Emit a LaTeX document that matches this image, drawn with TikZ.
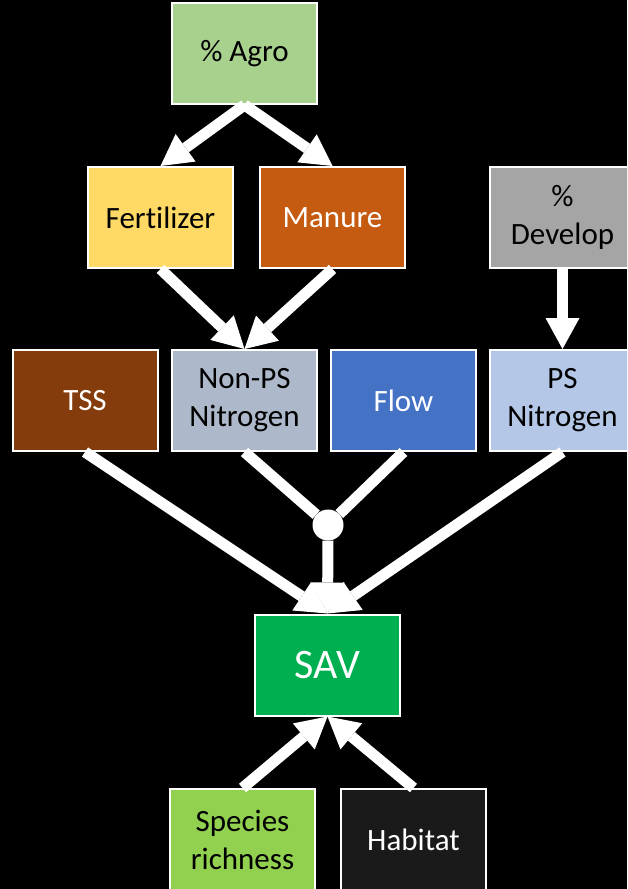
\documentclass[tikz,border=0pt]{standalone}
\usepackage{fontspec}
\setmainfont[Ligatures=NoCommon]{Carlito}
\usetikzlibrary{arrows.meta}

\definecolor{agrogreen}{HTML}{A9D18E}
\definecolor{fertyellow}{HTML}{FFD966}
\definecolor{manureorange}{HTML}{C55A11}
\definecolor{developgrey}{HTML}{A5A5A5}
\definecolor{tssbrown}{HTML}{843C0C}
\definecolor{nonpsgrey}{HTML}{ADB9CA}
\definecolor{flowblue}{HTML}{4472C4}
\definecolor{psblue}{HTML}{B4C7E7}
\definecolor{savgreen}{HTML}{00B050}
\definecolor{speciesgreen}{HTML}{92D050}
\definecolor{habitatgrey}{HTML}{1A1A1A}

\tikzset{%
  every box/.style={
    rectangle,
    draw=white,
    line width=2pt,
    minimum width=145pt,
    minimum height=101pt,
    align=center,
    font=\fontsize{31}{38}\selectfont
  },
  big arrow/.style={
    draw=white,
    line width=11pt,
    -{Triangle[length=31pt,width=34pt,line width=0pt]}
  },
  plain link/.style={
    draw=white,
    line width=11pt
  },
}

\begin{document}
\begin{tikzpicture}[x=1pt, y=-1pt]

\clip (0,0) rectangle (627,889);
\fill [black] (0,0) rectangle (627,889);


% Boxes
\node [every box, fill=agrogreen] (agro) at (244.5,53.5) {\% Agro};

\node [every box, fill=fertyellow] (fert) at (160.5,217.5) {Fertilizer};
\node [every box, fill=manureorange, text=white] (manure) at (332.5,217.5) {Manure};
\node [every box, fill=developgrey] (develop) at (562.5,217.5) {\%\\Develop};

\node [every box, fill=tssbrown, text=white] (tss) at (85,400.5) {TSS};
\node [every box, fill=nonpsgrey] (nonps) at (244.5,400.5) {Non-PS\\Nitrogen};
\node [every box, fill=flowblue, text=white] (flow) at (403.5,400.5) {Flow};
\node [every box, fill=psblue] (ps) at (562.5,400.5) {PS\\Nitrogen};

\node [every box, fill=savgreen, text=white, font=\fontsize{42}{50}\selectfont] (sav) at (327.5,665) {SAV};

\node [every box, fill=speciesgreen] (species) at (242.5,839.5) {Species\\richness};
\node [every box, fill=habitatgrey, text=white] (habitat) at (413.5,839.5) {Habitat};

\node [circle, fill=white, minimum size=31pt, inner sep=0pt] (junction) at (328,525) {};


% Arrows
\foreach \k in {fert,manure}
  \draw [big arrow] (agro.south) -- (\k.north);

\foreach \k in {fert,manure}
  \draw [big arrow] (\k.south) -- (nonps.north);

\draw [big arrow] (develop.south) -- (ps.north);

\foreach \k in {nonps,flow}
  \draw [plain link] (\k.south) -- (junction);

\foreach \k in {tss,junction,ps}
  \draw [big arrow] (\k.south) -- (sav.north);

\foreach \k in {species,habitat}
  \draw [big arrow] (\k.north) -- (sav.south);

\end{tikzpicture}
\end{document}
